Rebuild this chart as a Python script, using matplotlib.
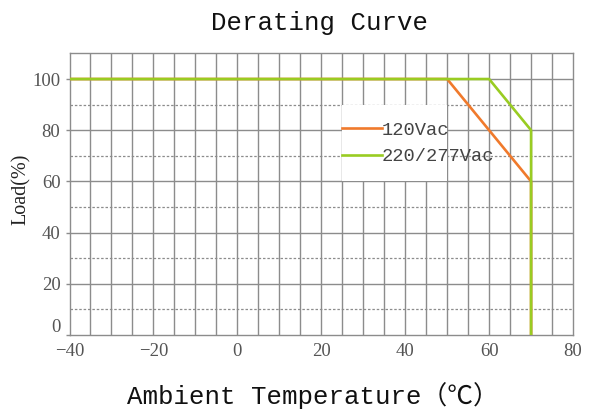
"""
Derating curve: load (%) vs ambient temperature
"""

import matplotlib
matplotlib.use('Agg')
import matplotlib.pyplot as plt
import matplotlib.transforms as mtransforms
from matplotlib.patches import Rectangle

# 数据
temp_120 = [-40, 50, 70, 70]
load_120 = [100, 100, 60, 0]
temp_220 = [-40, 60, 70, 70]
load_220 = [100, 100, 80, 0]
series_labels = ['120Vac', '220/277Vac']
x_ticks = [-40, -20, 0, 20, 40, 60, 80]
y_ticks = [0, 20, 40, 60, 80, 100]

serif = ['Liberation Serif', 'DejaVu Serif']
mono = ['Liberation Mono', 'Noto Sans CJK SC', 'DejaVu Sans']

fig = plt.figure(figsize=(5.91, 4.11), dpi=100)
ax = fig.add_axes([0.1176, 0.185, 0.852, 0.685])

ax.set_xlim(-40, 80)
ax.set_ylim(0, 110)

# 网格
grid_c = '#8c8c8c'
for x in range(-35, 80, 5):
    ax.axvline(x, color=grid_c, lw=1.0, zorder=1)
for y in range(20, 110, 20):
    ax.axhline(y, color=grid_c, lw=1.0, zorder=1)
for y in range(10, 110, 20):
    ax.axhline(y, color=grid_c, lw=0.9, ls=(0, (2, 1.5)), zorder=1)

for s in ax.spines.values():
    s.set_color(grid_c)
    s.set_linewidth(1.0)

# 曲线
ax.plot(temp_120, load_120, color='#f07a2c', lw=1.9, zorder=3, label=series_labels[0])
ax.plot(temp_220, load_220, color='#99cc22', lw=1.9, zorder=4, label=series_labels[1])

# 图例白底
ax.add_patch(Rectangle((25, 60), 25, 30, facecolor='white', edgecolor='none', zorder=2))
leg = ax.legend(loc='center left', bbox_to_anchor=(25, 74.8), bbox_transform=ax.transData,
                frameon=False, handlelength=2.1, handletextpad=0.0,
                borderpad=0, borderaxespad=0, labelspacing=0.5,
                prop={'family': mono, 'size': 13.5})
leg.set_zorder(5)
for t in leg.get_texts():
    t.set_color('#444444')

# 刻度
ax.set_xticks(x_ticks)
ax.set_yticks(y_ticks)
ax.tick_params(axis='both', colors=grid_c, length=3, width=1, labelcolor='#555555',
               labelsize=13.5)
ax.tick_params(axis='x', length=0, pad=6)
for lbl in ax.get_xticklabels() + ax.get_yticklabels():
    lbl.set_family(serif)
# "0" 标签稍微上移
zero_lbl = ax.get_yticklabels()[0]
zero_lbl.set_transform(zero_lbl.get_transform() +
                       mtransforms.ScaledTranslation(0, 9 / 100, fig.dpi_scale_trans))

# 标题与标签
fig.text(0.541, 0.945, 'Derating Curve', ha='center', va='center',
         family=mono, fontsize=18.5, color='#111111')
fig.text(0.53, 0.038, 'Ambient Temperature（℃）', ha='center', va='center',
         family=mono, fontsize=18.5, color='#111111')
fig.text(0.036, 0.54, 'Load(%)', ha='center', va='center', rotation=90,
         family=serif, fontsize=14.5, color='#222222')

plt.savefig('out.png', dpi=100)
plt.close()
